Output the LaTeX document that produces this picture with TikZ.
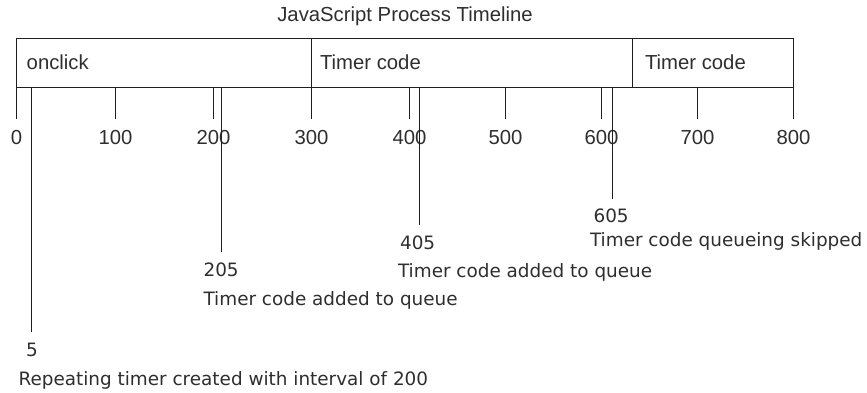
\documentclass[tikz,border=0pt]{standalone}
\usepackage{fontspec}
\setmainfont{Liberation Sans}
\newfontfamily\notefont{DejaVu Sans}
\begin{document}
\begin{tikzpicture}[x=1pt,y=-1pt,
  line width=1.1pt, draw=black!88,
  axlbl/.style={inner sep=0pt, text=black!82, font=\fontsize{20.3}{24}\selectfont},
  note/.style={inner sep=0pt, anchor=base west, text=black!82, font=\notefont\fontsize{18.4}{22}\selectfont},
  tick/.style={draw=black!88, line width=1.1pt}]
\useasboundingbox (0,0) rectangle (867,393);
% title
\node[axlbl, anchor=base] (title) at (405,21.7) {JavaScript Process Timeline};
% process boxes
\coordinate (b0t) at (16.5,38.5);
\coordinate (b1t) at (311.5,38.5);
\coordinate (b2t) at (632.5,38.5);
\coordinate (b3t) at (793.5,38.5);
\coordinate (b0b) at (16.5,87.5);
\coordinate (b1b) at (311.5,87.5);
\coordinate (b2b) at (632.5,87.5);
\coordinate (b3b) at (793.5,87.5);
\draw[tick] (b0t) rectangle (b3b);
\draw[tick] (b1t) -- (b1b);
\draw[tick] (b2t) -- (b2b);
\node[axlbl, anchor=base west] (seg1) at (26.2,70) {onclick};
\node[axlbl, anchor=base west] (seg2) at (319.5,70) {Timer code};
\node[axlbl, anchor=base west] (seg3) at (644.5,70) {Timer code};
% ticks and tick labels
\foreach \v/\x in {0/16.5,100/115.5,200/213.5,300/311.5,400/409.5,500/505.5,600/601.5,700/697.5,800/793.5}{
  \coordinate (tt\v) at (\x,87.5);
  \coordinate (tb\v) at (\x,119.5);
  \draw[tick] (tt\v) -- (tb\v);
  \node[axlbl, anchor=base] (tl\v) at (\x,145) {\v};
}
% event lines
\coordinate (e5t) at (31.5,87.5);   \coordinate (e5b) at (31.5,331.5);
\coordinate (e205t) at (221.5,87.5); \coordinate (e205b) at (221.5,251.5);
\coordinate (e405t) at (419.5,87.5);  \coordinate (e405b) at (419.5,225);
\coordinate (e605t) at (612.5,87.5); \coordinate (e605b) at (612.5,198.5);
\draw[tick] (e5t) -- (e5b);
\draw[tick] (e205t) -- (e205b);
\draw[tick] (e405t) -- (e405b);
\draw[tick] (e605t) -- (e605b);
% notes
\node[note] (n605) at (593,222.7) {605};
\node[note] (d605) at (589.5,246.7) {Timer code queueing skipped};
\node[note] (n405) at (399.5,249.3) {405};
\node[note] (d405) at (397.5,277) {Timer code added to queue};
\node[note] (n205) at (203,276) {205};
\node[note] (d205) at (203,305) {Timer code added to queue};
\node[note] (n5) at (25.5,356.7) {5};
\node[note] (d5) at (18,385) {Repeating timer created with interval of 200};
\end{tikzpicture}
\end{document}
